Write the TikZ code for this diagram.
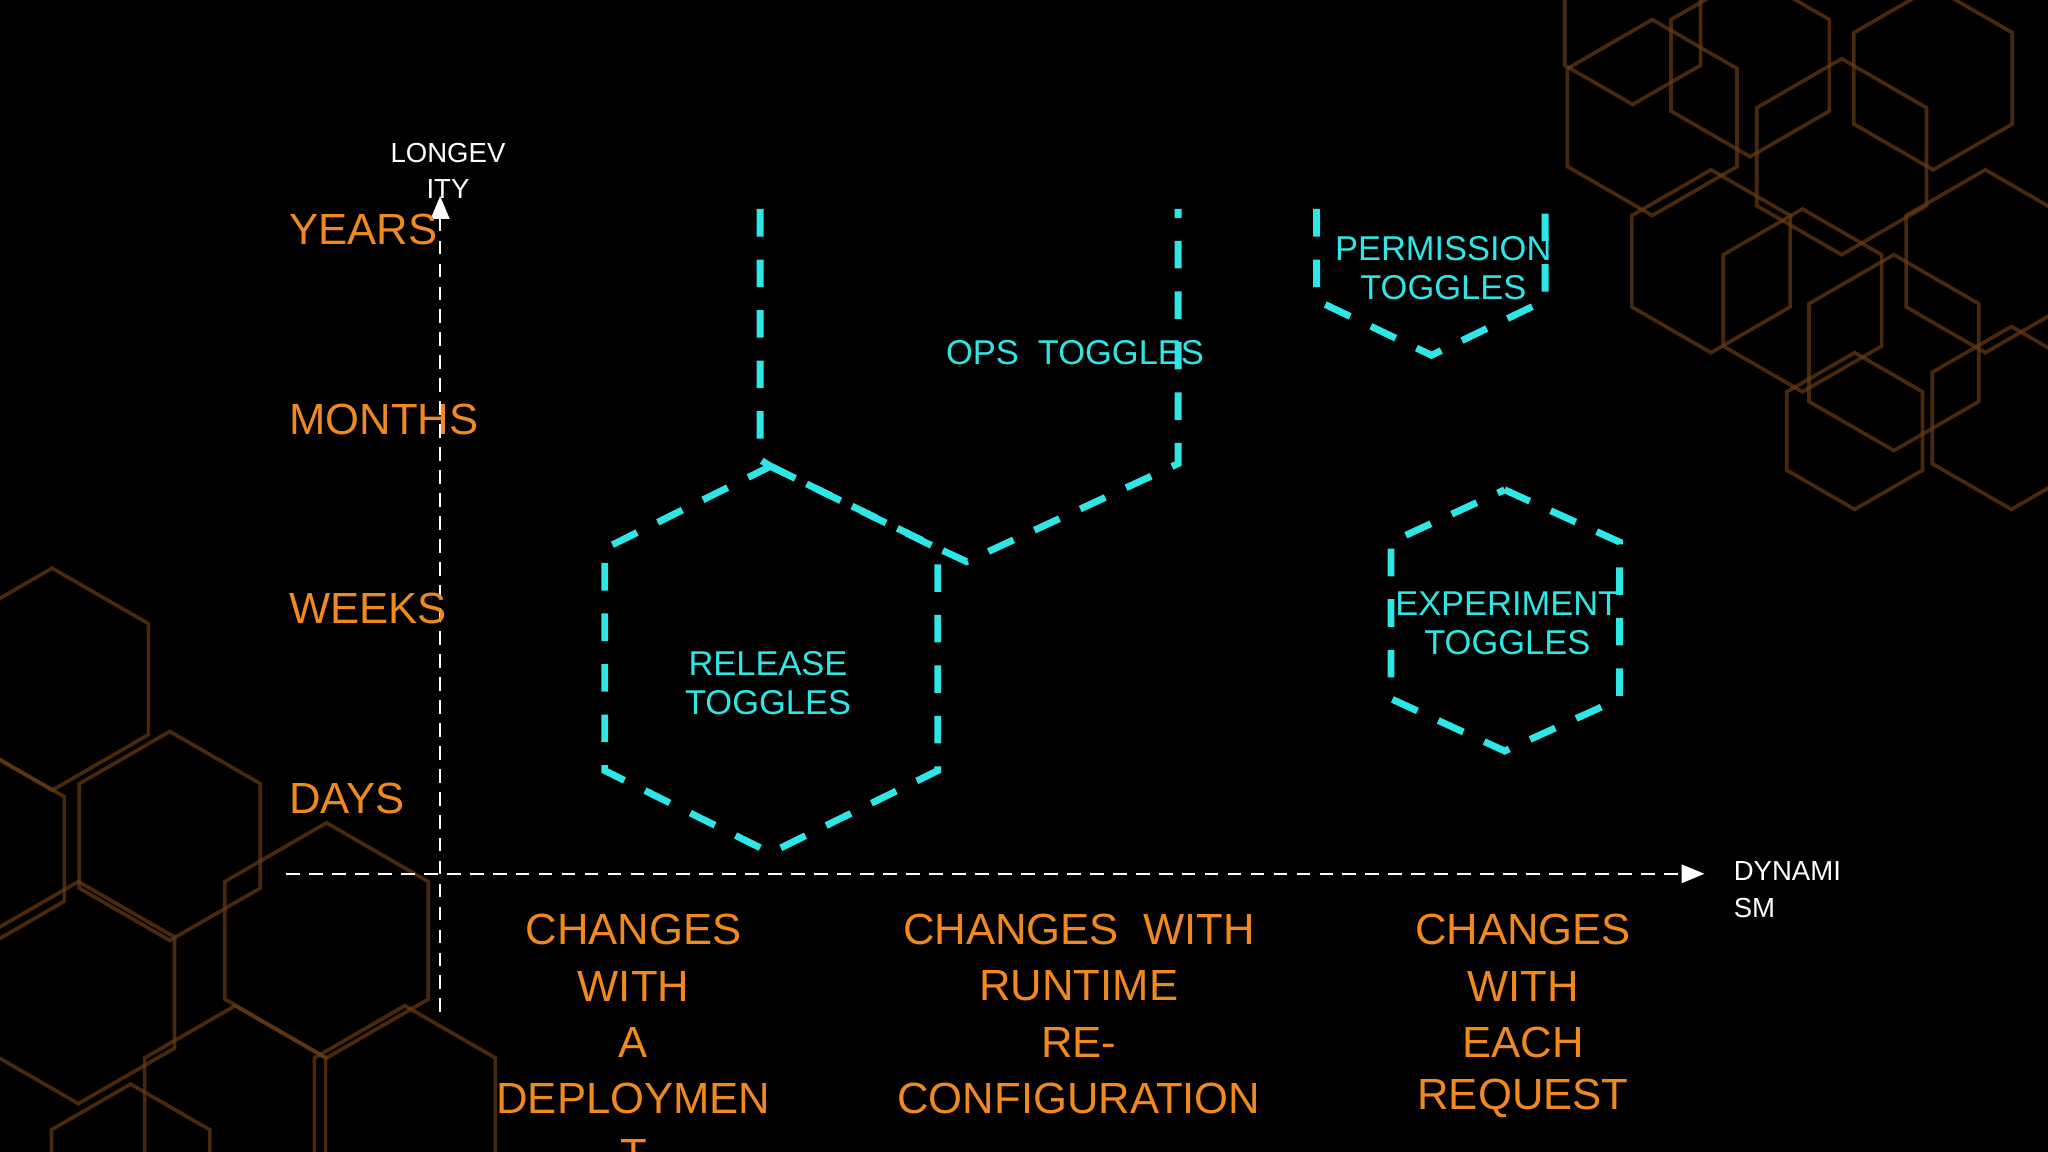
\documentclass[tikz,border=0pt]{standalone}
\usepackage{fontspec}
\setmainfont{Liberation Sans}
\usetikzlibrary{arrows.meta}
\definecolor{tog}{HTML}{2EE6E6}
\definecolor{org}{HTML}{F08A1E}
\definecolor{bgh}{HTML}{6A3A10}
\newcommand\hexg[3]{\draw[bghex] (#1,#2) +(90:#3) -- +(30:#3) -- +(-30:#3) -- +(-90:#3) -- +(-150:#3) -- +(150:#3) -- cycle;}
\tikzset{
 bghex/.style={draw=bgh,line width=0.8pt,opacity=0.7},
 tg/.style={draw=tog,dash pattern=on 6pt off 5pt,line width=1.5pt},
 tgl/.style={text=tog,font=\fontsize{7.5}{9.5}\selectfont,align=center},
 ax/.style={draw=white,densely dashed,line width=0.5pt,-{Triangle[length=5pt,width=4pt]}},
 yl/.style={text=org,font=\fontsize{9.5}{11}\selectfont,anchor=west},
 bl/.style={text=org,font=\fontsize{9.5}{11}\selectfont},
 wl/.style={text=white,font=\fontsize{6}{7.5}\selectfont}
}
\begin{document}
\begin{tikzpicture}[x=0.01cm,y=-0.01cm]
\fill[black] (0,0) rectangle (1568,882);
\useasboundingbox (0,0) rectangle (1568,882);
% background hexagons
\foreach \x/\y/\r in {1265/90/75,1340/50/70,1410/120/75,1480/60/70,1310/200/70,1380/230/70,1450/270/75,1520/200/70,1540/320/70,1420/330/60,1250/20/60}{\hexg{\x}{\y}{\r}}
\foreach \x/\y/\r in {40/520/85,130/640/80,250/720/90,60/760/85,180/850/80,310/850/80,-20/650/80,100/900/70}{\hexg{\x}{\y}{\r}}
% axes
\coordinate (o1) at (337,775); \coordinate (o2) at (337,150);
\coordinate (h1) at (219,669); \coordinate (h2) at (1305,669);
\draw[ax] (o1) -- (o2);
\draw[ax] (h1) -- (h2);
\node[wl] (lg1) at (343,117) {LONGEV};
\node[wl] (lg2) at (343,145) {ITY};
\node[wl,anchor=west] (dy1) at (1315,667) {DYNAMI};
\node[wl,anchor=west] (dy2) at (1315,695) {SM};
% y labels
\node[yl] (ye) at (209,176) {YEARS};
\node[yl] (mo) at (209,321) {MONTHS};
\node[yl] (we) at (209,466) {WEEKS};
\node[yl] (da) at (209,611) {DAYS};
% bottom labels
\foreach \t [count=\i] in {CHANGES,WITH,A,DEPLOYMEN,T}{\node[bl] (c1\i) at (485,669+43*\i) {\t};}
\foreach \t [count=\i] in {CHANGES\ \ WITH,RUNTIME,RE-,CONFIGURATION}{\node[bl] (c2\i) at (826,669+43*\i) {\t};}
\foreach \t [count=\i] in {CHANGES,WITH,EACH,REQUEST}{\node[bl] (c3\i) at (1166,669+43*\i) {\t};}
% toggles
\draw[tg] (590,357) -- (718,420) -- (718,590) -- (590,653) -- (463,590) -- (463,420) -- cycle;
\draw[tg] (582,160) -- (582,352) -- (590,357) -- (725,423) -- (740,430) -- (902,355) -- (902,160);
\draw[tg] (1008,160) -- (1008,230) -- (1096,272) -- (1183,230) -- (1183,160);
\draw[tg] (1152,375) -- (1240,415) -- (1240,535) -- (1152,575) -- (1065,535) -- (1065,415) -- cycle;
\node[tgl] (rel) at (588,523) {RELEASE\\[-1pt]TOGGLES};
\node[tgl] (ops) at (823,270) {OPS\ \ TOGGLES};
\node[tgl] (per) at (1105,205) {PERMISSION\\[-1pt]TOGGLES};
\node[tgl] (exp) at (1154,477) {EXPERIMENT\\[-1pt]TOGGLES};
\end{tikzpicture}
\end{document}
